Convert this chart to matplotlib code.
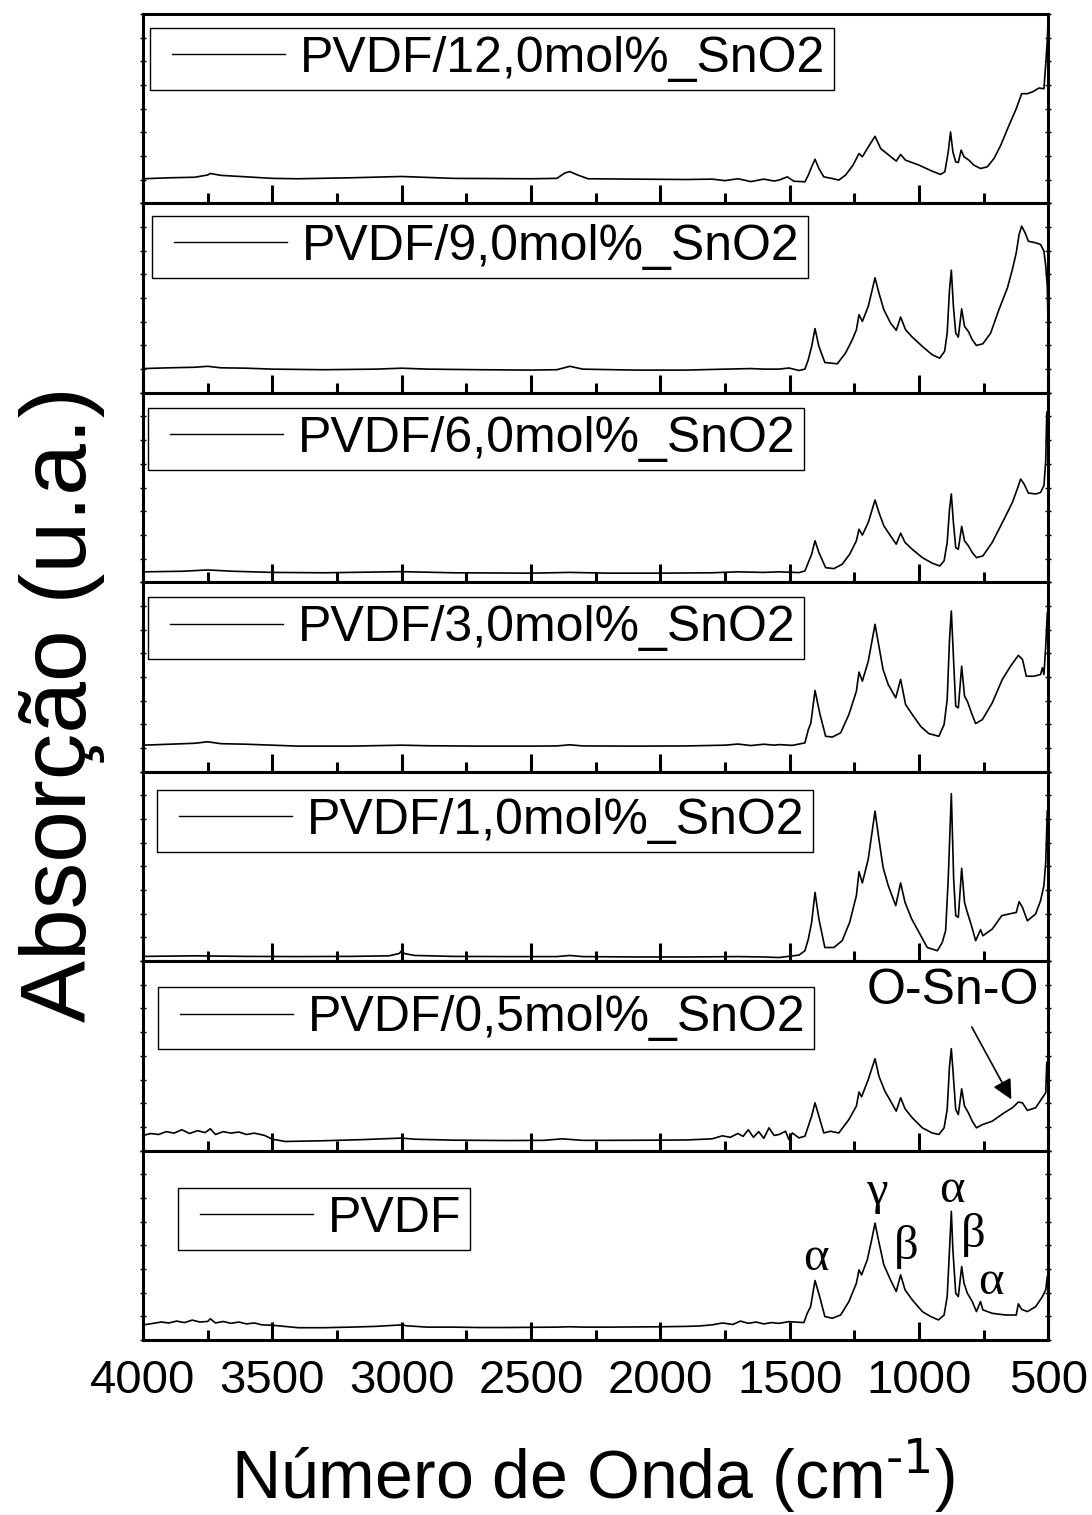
import matplotlib
matplotlib.use("Agg")
import matplotlib.pyplot as plt
from matplotlib.lines import Line2D
from matplotlib.legend_handler import HandlerLine2D
import numpy as np

plt.rcParams['font.family'] = ['Liberation Sans', 'DejaVu Sans']
plt.rcParams['mathtext.default'] = 'regular'

# FTIR spectra (wavenumber cm-1, absorbance a.u.), top panel first
labels = ['PVDF/12,0mol%_SnO2', 'PVDF/9,0mol%_SnO2', 'PVDF/6,0mol%_SnO2',
          'PVDF/3,0mol%_SnO2', 'PVDF/1,0mol%_SnO2', 'PVDF/0,5mol%_SnO2', 'PVDF']

wn_12 = [4000, 3900, 3800, 3750, 3740, 3700, 3600, 3500, 3400, 3200, 3000, 2800, 2500, 2400, 2370, 2350, 2320,
         2280, 2100, 1900, 1800, 1750, 1700, 1650, 1600, 1560,
         1541, 1509, 1484, 1441, 1428, 1415, 1402, 1387, 1368, 1338, 1310, 1284, 1255, 1232, 1219, 1196, 1170,
         1148, 1116, 1088, 1071, 1052, 1000, 949, 917, 900, 887, 878, 869, 858, 848, 837, 826, 807, 788, 762,
         736, 710, 684, 652, 624, 603, 581, 562, 536, 517, 510, 504, 500]
ab_12 = [0.130, 0.135, 0.138, 0.150, 0.158, 0.148, 0.140, 0.132, 0.130, 0.135, 0.142, 0.132, 0.130, 0.132, 0.160,
         0.168, 0.150, 0.130, 0.128, 0.126, 0.128, 0.120, 0.130, 0.115, 0.128, 0.118,
         0.123, 0.140, 0.117, 0.114, 0.149, 0.193, 0.233, 0.184, 0.140, 0.132, 0.123, 0.149, 0.202, 0.263, 0.246,
         0.298, 0.354, 0.289, 0.254, 0.223, 0.258, 0.228, 0.202, 0.170, 0.153, 0.167, 0.272, 0.377, 0.272, 0.219,
         0.216, 0.281, 0.246, 0.228, 0.202, 0.184, 0.193, 0.237, 0.307, 0.412, 0.500, 0.579, 0.579, 0.588, 0.609,
         0.605, 0.737, 0.860, 1.0]

wn_9 = [4000, 3900, 3800, 3750, 3700, 3600, 3500, 3300, 3100, 3000, 2900, 2700, 2500, 2400, 2350, 2300, 2100,
        1900, 1750, 1650, 1600,
        1541, 1503, 1464, 1441, 1428, 1415, 1402, 1387, 1364, 1342, 1316, 1284, 1258, 1242, 1232, 1219, 1196,
        1170, 1155, 1136, 1110, 1088, 1071, 1052, 1026, 987, 949, 920, 901, 891, 882, 875, 867, 858, 848, 835,
        824, 809, 794, 778, 753, 723, 691, 658, 639, 624, 613, 603, 590, 577, 549, 530, 517, 510, 504, 500]
ab_9 = [0.128, 0.132, 0.135, 0.140, 0.132, 0.130, 0.125, 0.122, 0.125, 0.130, 0.125, 0.122, 0.120, 0.122, 0.140,
        0.125, 0.120, 0.120, 0.125, 0.128, 0.125,
        0.125, 0.131, 0.118, 0.125, 0.175, 0.245, 0.339, 0.245, 0.160, 0.157, 0.153, 0.210, 0.280, 0.333, 0.412,
        0.377, 0.457, 0.607, 0.527, 0.439, 0.368, 0.330, 0.400, 0.333, 0.294, 0.245, 0.201, 0.183, 0.219, 0.316,
        0.545, 0.647, 0.457, 0.316, 0.294, 0.443, 0.351, 0.324, 0.280, 0.250, 0.259, 0.315, 0.439, 0.554, 0.651,
        0.739, 0.836, 0.880, 0.845, 0.800, 0.792, 0.783, 0.748, 0.669, 0.563, 0.300]

wn_6 = [4000, 3850, 3750, 3650, 3500, 3300, 3000, 2800, 2500, 2350, 2200, 2000, 1800, 1700, 1600,
        1541, 1464, 1441, 1428, 1415, 1402, 1387, 1361, 1329, 1297, 1268, 1242, 1232, 1219, 1196, 1170, 1155,
        1136, 1110, 1088, 1071, 1054, 1026, 987, 949, 920, 903, 891, 882, 875, 867, 858, 848, 835, 824, 809,
        794, 778, 753, 717, 671, 639, 620, 607, 594, 577, 549, 530, 517, 510, 506, 500]
ab_6 = [0.055, 0.058, 0.065, 0.058, 0.052, 0.050, 0.056, 0.050, 0.048, 0.052, 0.048, 0.048, 0.050, 0.055, 0.052,
        0.055, 0.051, 0.060, 0.104, 0.148, 0.219, 0.157, 0.077, 0.072, 0.095, 0.148, 0.219, 0.280, 0.249, 0.316,
        0.434, 0.369, 0.298, 0.245, 0.201, 0.259, 0.210, 0.174, 0.130, 0.101, 0.086, 0.113, 0.210, 0.386, 0.466,
        0.316, 0.183, 0.174, 0.295, 0.219, 0.192, 0.157, 0.130, 0.139, 0.210, 0.333, 0.421, 0.492, 0.545, 0.519,
        0.471, 0.466, 0.474, 0.510, 0.642, 0.898, 0.750]

wn_3 = [4000, 3900, 3800, 3750, 3700, 3600, 3500, 3400, 3200, 3000, 2900, 2700, 2500, 2400, 2350, 2300, 2100,
        1900, 1750, 1700, 1650, 1600, 1560,
        1541, 1490, 1441, 1428, 1418, 1402, 1384, 1361, 1335, 1303, 1271, 1242, 1232, 1219, 1196, 1170, 1155,
        1139, 1119, 1090, 1071, 1052, 1026, 994, 962, 923, 903, 891, 882, 875, 867, 858, 848, 835, 824, 813,
        797, 781, 755, 717, 678, 646, 616, 600, 585, 556, 530, 523, 517, 510, 504, 500]
ab_3 = [0.140, 0.145, 0.150, 0.158, 0.148, 0.145, 0.140, 0.135, 0.135, 0.140, 0.137, 0.135, 0.135, 0.136, 0.142,
        0.136, 0.135, 0.136, 0.140, 0.146, 0.138, 0.145, 0.140,
        0.143, 0.139, 0.152, 0.222, 0.257, 0.429, 0.310, 0.187, 0.183, 0.205, 0.302, 0.425, 0.526, 0.478, 0.584,
        0.778, 0.663, 0.540, 0.460, 0.390, 0.487, 0.355, 0.302, 0.240, 0.201, 0.187, 0.249, 0.381, 0.698, 0.848,
        0.610, 0.346, 0.337, 0.557, 0.399, 0.372, 0.310, 0.254, 0.275, 0.363, 0.487, 0.557, 0.614, 0.593, 0.504,
        0.504, 0.513, 0.549, 0.513, 0.663, 0.840, 0.750]

wn_1 = [4000, 3800, 3600, 3400, 3200, 3050, 3010, 3000, 2990, 2950, 2800, 2600, 2400, 2350, 2300, 2100, 1900,
        1700, 1600,
        1541, 1464, 1441, 1428, 1415, 1402, 1387, 1364, 1329, 1297, 1268, 1242, 1232, 1219, 1196, 1170, 1157,
        1139, 1119, 1090, 1071, 1054, 1028, 1000, 968, 929, 910, 897, 887, 875, 866, 858, 848, 835, 824, 813,
        797, 781, 762, 753, 717, 680, 652, 624, 613, 600, 581, 549, 530, 517, 510, 504, 500]
ab_1 = [0.025, 0.028, 0.025, 0.024, 0.025, 0.028, 0.040, 0.055, 0.040, 0.030, 0.025, 0.024, 0.024, 0.030, 0.024,
        0.022, 0.022, 0.024, 0.022,
        0.019, 0.032, 0.055, 0.116, 0.205, 0.363, 0.222, 0.072, 0.072, 0.108, 0.205, 0.346, 0.472, 0.413, 0.540,
        0.792, 0.663, 0.496, 0.399, 0.293, 0.413, 0.310, 0.222, 0.152, 0.072, 0.055, 0.099, 0.161, 0.434, 0.884,
        0.434, 0.240, 0.231, 0.490, 0.310, 0.257, 0.187, 0.108, 0.166, 0.134, 0.169, 0.240, 0.249, 0.257, 0.314,
        0.284, 0.213, 0.249, 0.319, 0.399, 0.522, 0.795, 0.600]

wn_05 = [4000, 3970, 3940, 3910, 3880, 3850, 3820, 3790, 3760, 3740, 3720, 3690, 3660, 3630, 3600, 3570, 3530,
         3500, 3450, 3300, 3150, 3000, 2950, 2800, 2600, 2450, 2380, 2340, 2300, 2200, 2000, 1900, 1800, 1760,
         1730, 1700, 1680, 1660, 1640, 1620, 1600, 1580, 1560,
         1541, 1516, 1503, 1490, 1464, 1441, 1428, 1415, 1402, 1387, 1368, 1342, 1310, 1271, 1242, 1232, 1222,
         1196, 1170, 1155, 1132, 1106, 1088, 1071, 1054, 1026, 987, 949, 923, 903, 891, 882, 875, 869, 858, 848,
         835, 824, 809, 794, 778, 755, 717, 671, 639, 616, 600, 581, 549, 523, 510, 506, 500]
ab_05 = [0.080, 0.090, 0.085, 0.100, 0.092, 0.110, 0.090, 0.105, 0.095, 0.115, 0.085, 0.100, 0.092, 0.098, 0.085,
         0.092, 0.080, 0.060, 0.048, 0.052, 0.058, 0.066, 0.060, 0.055, 0.053, 0.054, 0.062, 0.058, 0.054, 0.054,
         0.055, 0.056, 0.062, 0.078, 0.070, 0.090, 0.075, 0.110, 0.070, 0.100, 0.065, 0.120, 0.080,
         0.085, 0.102, 0.058, 0.093, 0.067, 0.076, 0.129, 0.182, 0.252, 0.182, 0.093, 0.102, 0.093, 0.164, 0.235,
         0.309, 0.284, 0.376, 0.485, 0.393, 0.314, 0.252, 0.208, 0.279, 0.221, 0.173, 0.120, 0.093, 0.085, 0.120,
         0.217, 0.446, 0.538, 0.428, 0.217, 0.190, 0.326, 0.235, 0.199, 0.155, 0.120, 0.137, 0.155, 0.199, 0.226,
         0.256, 0.252, 0.212, 0.226, 0.279, 0.305, 0.466, 0.400]

wn_0 = [4000, 3960, 3930, 3900, 3870, 3840, 3810, 3780, 3750, 3740, 3720, 3690, 3660, 3630, 3600, 3570, 3540,
        3500, 3400, 3300, 3200, 3100, 3000, 2980, 2900, 2800, 2700, 2600, 2500, 2400, 2350, 2300, 2200, 2100,
        2000, 1900, 1850, 1800, 1760, 1720, 1690, 1660, 1630, 1600, 1570,
        1541, 1503, 1445, 1432, 1419, 1402, 1384, 1364, 1335, 1303, 1271, 1242, 1232, 1222, 1200, 1183, 1170,
        1157, 1136, 1110, 1088, 1071, 1054, 1026, 987, 955, 925, 903, 891, 882, 875, 869, 858, 848, 835, 826,
        813, 794, 778, 762, 753, 717, 665, 624, 616, 603, 581, 549, 523, 510, 504, 500]
ab_0 = [0.080, 0.088, 0.095, 0.090, 0.100, 0.092, 0.105, 0.095, 0.098, 0.112, 0.090, 0.098, 0.088, 0.095, 0.085,
        0.090, 0.080, 0.078, 0.065, 0.065, 0.068, 0.072, 0.080, 0.075, 0.068, 0.068, 0.066, 0.066, 0.067, 0.068,
        0.070, 0.068, 0.068, 0.069, 0.070, 0.072, 0.074, 0.080, 0.090, 0.082, 0.100, 0.088, 0.095, 0.085, 0.092,
        0.088, 0.097, 0.092, 0.141, 0.176, 0.314, 0.229, 0.124, 0.115, 0.132, 0.203, 0.300, 0.370, 0.344, 0.423,
        0.529, 0.617, 0.529, 0.397, 0.317, 0.256, 0.344, 0.265, 0.212, 0.150, 0.124, 0.106, 0.132, 0.229, 0.476,
        0.679, 0.476, 0.247, 0.229, 0.388, 0.300, 0.247, 0.203, 0.150, 0.203, 0.159, 0.141, 0.132, 0.132, 0.191,
        0.162, 0.150, 0.176, 0.229, 0.265, 0.335, 0.300]

spectra = [(wn_12, ab_12), (wn_9, ab_9), (wn_6, ab_6), (wn_3, ab_3), (wn_1, ab_1), (wn_05, ab_05), (wn_0, ab_0)]

# where each legend box sits (axes fraction, upper-left corner)
legend_pos = [(0.008, 0.926), (0.010, 0.936), (0.0055, 0.921), (0.0055, 0.921),
              (0.0155, 0.905), (0.0166, 0.862), (0.0387, 0.804)]

fig, axes = plt.subplots(7, 1, sharex=True, figsize=(10.92, 15.15), dpi=100,
                         gridspec_kw=dict(hspace=0))
fig.subplots_adjust(left=0.131, right=0.960, top=0.9908, bottom=0.1155)

for ax, (wn, ab), lab, pos in zip(axes, spectra, labels, legend_pos):
    ax.plot(wn, ab, color='k', lw=1.2)
    ax.set_xlim(4000, 500)
    ax.set_ylim(0, 1)
    ax.set_yticks(np.linspace(0, 1, 9))
    ax.set_yticklabels([])
    ax.set_xticks(np.arange(4000, 499, -500))
    ax.set_xticks(np.arange(3750, 500, -500), minor=True)
    ax.tick_params(axis='x', which='major', direction='in', length=13, width=2.2, top=False,
                   labelsize=34, pad=14)
    ax.tick_params(axis='x', which='minor', direction='in', length=7, width=2.2, top=False)
    ax.tick_params(axis='y', direction='inout', length=5, width=1, left=True, right=True)
    for sp in ax.spines.values():
        sp.set_linewidth(2.2)
    h = Line2D([], [], color='k', lw=1.0)
    leg = ax.legend([h], [lab], loc='upper left', bbox_to_anchor=pos, borderaxespad=0,
                    fontsize=36, handlelength=2.54, handletextpad=0.3, borderpad=0.16,
                    fancybox=False, edgecolor='k', framealpha=1,
                    handler_map={h: HandlerLine2D(xpad=0.28)})
    leg.get_frame().set_linewidth(1.0)

# peak assignments on the pure PVDF spectrum
greek = [('α', 1397, 0.434), ('γ', 1165, 0.783), ('β', 1049, 0.492),
         ('α', 871, 0.794), ('β', 791, 0.556), ('α', 722, 0.307)]
for s, x, y in greek:
    axes[6].text(x, y, s, ha='center', va='center', fontsize=35, family='Liberation Serif')

axes[5].annotate('O-Sn-O', xy=(643, 0.27), xytext=(871, 0.84), ha='center', va='center', fontsize=36,
                 arrowprops=dict(arrowstyle='-|>', color='k', lw=1.2, mutation_scale=30,
                                 shrinkA=8, shrinkB=0))

fig.text(0.057, 0.535, 'Absorção (u.a.)', rotation=90, ha='center', va='center', fontsize=67)
fig.text(0.543, 0.026, r'Número de Onda (cm$^{\text{-1}}$)', ha='center', va='center', fontsize=49)

fig.savefig('out.png', dpi=100)
